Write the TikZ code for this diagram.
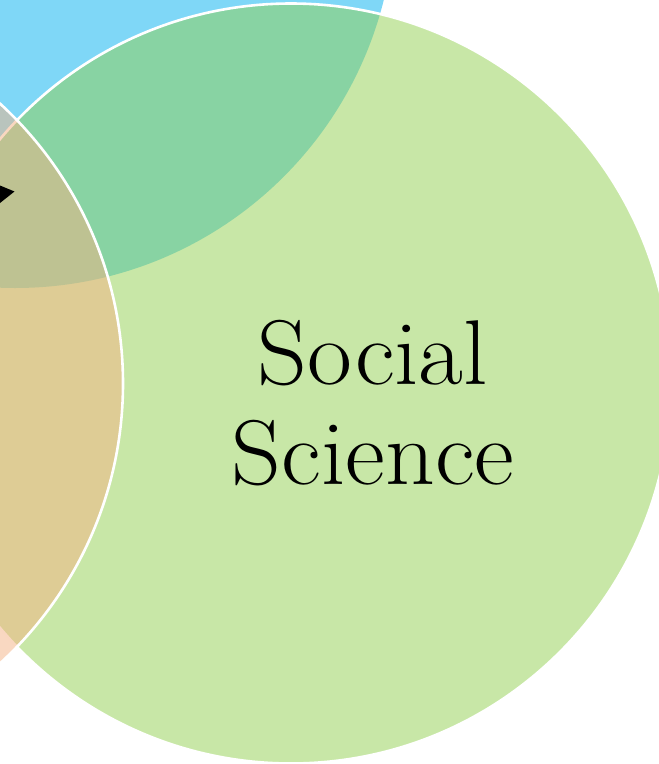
\documentclass[tikz,border=0pt]{standalone}
\begin{document}
\begin{tikzpicture}[x=1pt,y=-1pt]
\definecolor{cblue}{HTML}{00B0F0}
\definecolor{cgreen}{HTML}{92D050}
\definecolor{corange}{HTML}{F4B183}
\tikzset{
  setfill/.style={fill=#1, fill opacity=0.5},
  setline/.style={draw=white, draw opacity=1, line width=2.6pt},
}
\useasboundingbox (0,0) rectangle (659,764);
\clip (0,0) rectangle (659,764);
% blue set (top)
\path[setfill=cblue] (15,-92) circle (380pt);
% green set (right)
\path[setfill=cgreen, setline] (291,383.5) circle (380pt);
% orange set (left)
\path[setfill=corange, setline] (-257,383.5) circle (380pt);
% fragment of a label cut off at the left edge
\fill[black] (0,185.5) -- (14.5,191.5) -- (0,203) -- cycle;
% label
\node[font=\fontsize{92}{100}\selectfont, align=center, text=black, xscale=1.06] (social) at (373,403) {Social\\Science};
\end{tikzpicture}
\end{document}
